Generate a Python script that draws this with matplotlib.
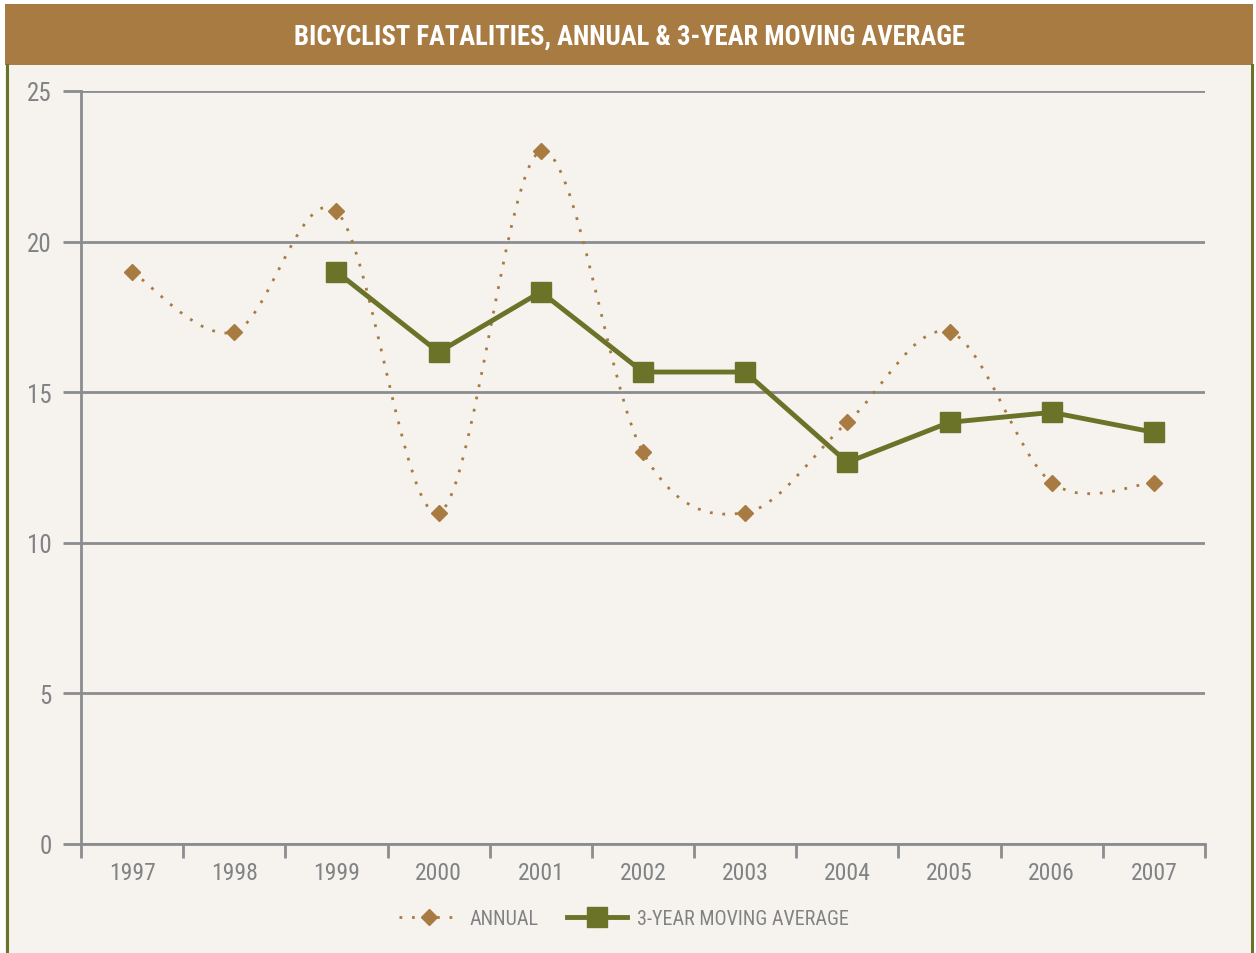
import matplotlib
matplotlib.use("Agg")
import matplotlib.pyplot as plt
from matplotlib import font_manager
from matplotlib.path import Path
from matplotlib.patches import PathPatch, Rectangle
from matplotlib.lines import Line2D
import numpy as np

years = ["1997", "1998", "1999", "2000", "2001", "2002", "2003", "2004", "2005", "2006", "2007"]
annual = [19, 17, 21, 11, 23, 13, 11, 14, 17, 12, 12]
ma_years = ["1999", "2000", "2001", "2002", "2003", "2004", "2005", "2006", "2007"]
moving_avg = [19.0, 16.33, 18.33, 15.67, 15.67, 12.67, 14.0, 14.33, 13.67]
y_ticks = [0, 5, 10, 15, 20, 25]
title = "BICYCLIST FATALITIES, ANNUAL & 3-YEAR MOVING AVERAGE"

names = {f.name for f in font_manager.fontManager.ttflist}
fam = "DejaVu Sans"
for cand in ["Liberation Sans Narrow", "Roboto Condensed", "Open Sans Condensed"]:
    if cand in names:
        fam = cand
        break
plt.rcParams['font.family'] = [fam, 'DejaVu Sans']

BROWN = "#a87b42"
OLIVE = "#6b7328"
BG = "#f6f3ee"
GRID = "#8a8c8f"
TXT = "#808285"

W, H = 1256, 954
fig = plt.figure(figsize=(W / 100, H / 100), dpi=100)
fig.patch.set_facecolor("white")

# background panel
fig.add_artist(Rectangle((5 / W, 0), 1248 / W, (H - 5) / H, transform=fig.transFigure,
                         facecolor=BG, edgecolor="none", zorder=0))
# banner
fig.add_artist(Rectangle((5 / W, (H - 66) / H), 1248 / W, 61 / H, transform=fig.transFigure,
                         facecolor=BROWN, edgecolor="none", zorder=1))
# side borders
for xp in (6.5, 1251.5):
    fig.add_artist(Line2D([xp / W, xp / W], [0, (H - 66) / H], transform=fig.transFigure,
                          color=OLIVE, lw=2.2, zorder=2))
fig.text(629 / W, (H - 37) / H, title, ha="center", va="center", color="white",
         fontsize=19.2, fontweight="bold")

ax = fig.add_axes([81 / W, (H - 845) / H, 1124 / W, 753 / H])
ax.set_facecolor("none")
x = np.arange(len(years))
xm = np.array([years.index(y) for y in ma_years])

ax.set_xlim(-0.5, len(years) - 0.5)
ax.set_ylim(0, 25)
ax.set_yticks(y_ticks)
ax.set_yticklabels([str(v) for v in y_ticks])
ax.yaxis.grid(True, color=GRID, lw=2)
ax.set_axisbelow(True)
ax.set_xticks(x)
ax.set_xticklabels(years)
ax.set_xticks(np.arange(-0.5, len(years), 1.0), minor=True)
ax.tick_params(axis="x", which="major", length=0, pad=12, labelsize=17, labelcolor=TXT)
ax.tick_params(axis="x", which="minor", length=10, width=2, color=GRID, direction="out")
ax.tick_params(axis="y", length=13, width=2, color=GRID, labelsize=18, labelcolor=TXT, pad=8)
for s in ("top", "right"):
    ax.spines[s].set_visible(False)
for s in ("left", "bottom"):
    ax.spines[s].set_color(GRID)
    ax.spines[s].set_linewidth(2)

# smoothed annual curve (Catmull-Rom -> cubic Bezier)
pts = np.column_stack([x, annual]).astype(float)
verts = [tuple(pts[0])]
codes = [Path.MOVETO]
n = len(pts)
for i in range(n - 1):
    p0 = pts[max(i - 1, 0)]
    p1 = pts[i]
    p2 = pts[i + 1]
    p3 = pts[min(i + 2, n - 1)]
    c1 = p1 + (p2 - p0) / 6.0
    c2 = p2 - (p3 - p1) / 6.0
    verts += [tuple(c1), tuple(c2), tuple(p2)]
    codes += [Path.CURVE4] * 3
ax.add_patch(PathPatch(Path(verts, codes), fill=False, edgecolor=BROWN, lw=2,
                       linestyle=(0, (1, 3.5)), zorder=3))
ax.plot(x, annual, linestyle="none", marker="D", markersize=8, color=BROWN, zorder=4)

ax.plot(xm, moving_avg, color=OLIVE, lw=3.5, marker="s", markersize=15, zorder=5)

h1 = Line2D([], [], color=BROWN, lw=2, linestyle=(0, (1, 3.5)), marker="D", markersize=8)
h2 = Line2D([], [], color=OLIVE, lw=3.5, marker="s", markersize=15)
leg = fig.legend([h1, h2], ["ANNUAL", "3-YEAR MOVING AVERAGE"], loc="center",
                 bbox_to_anchor=(624 / W, (H - 920) / H), ncol=2, frameon=False,
                 fontsize=14.5, handlelength=3.0, columnspacing=1.4, handletextpad=0.5)
for t in leg.get_texts():
    t.set_color(TXT)

fig.savefig("out.png", dpi=100, facecolor=fig.get_facecolor())
